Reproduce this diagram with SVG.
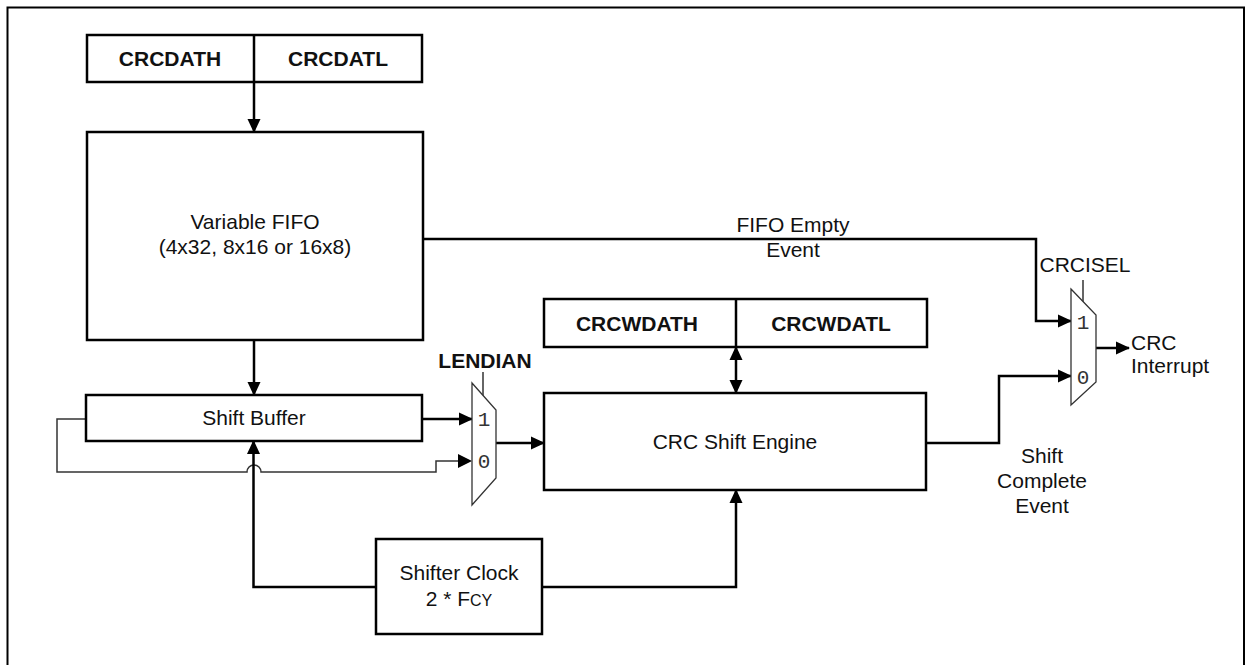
<svg xmlns="http://www.w3.org/2000/svg" width="1251" height="665" viewBox="0 0 1251 665">
<defs>
<marker id="ah" markerWidth="14" markerHeight="14" viewBox="0 0 14 14" refX="13" refY="7" orient="auto" markerUnits="userSpaceOnUse"><path d="M0,0.5 L14,7 L0,13.5 Z" fill="#000"/></marker>
<marker id="ahs" markerWidth="14" markerHeight="14" viewBox="0 0 14 14" refX="13" refY="7" orient="auto-start-reverse" markerUnits="userSpaceOnUse"><path d="M0,0.5 L14,7 L0,13.5 Z" fill="#000"/></marker>
</defs>
<style>
.box{fill:#fff;stroke:#000;stroke-width:2.5}
.t{font-family:"Liberation Sans",Arial,sans-serif;font-size:21px;fill:#111;text-anchor:middle}
.b{font-weight:bold}
.w{fill:none;stroke:#000;stroke-width:2.5}
.thin{fill:none;stroke:#333;stroke-width:1.5}
.mux{fill:#fff;stroke:#333;stroke-width:1.3}
.m{font-family:"Liberation Mono","DejaVu Sans Mono",monospace;font-size:21px;fill:#333;text-anchor:middle}
</style>
<rect width="1251" height="665" fill="#fff"/>
<path d="M7.5,665 V7.5 H1244 V665" fill="none" stroke="#000" stroke-width="2"/>

<g id="connectors">
<line class="w" x1="254" y1="82" x2="254" y2="132" marker-end="url(#ah)"/>
<line class="w" x1="254" y1="340" x2="254" y2="395" marker-end="url(#ah)"/>
<path class="w" d="M423,239 H1036 V321 H1071" marker-end="url(#ah)"/>
<line class="w" x1="422" y1="419" x2="472" y2="419" marker-end="url(#ah)"/>
<path class="thin" d="M86,419 H57 V472 H247 A7,7 0 0 1 261,472 H436 V461 H460"/>
<path d="M458,454 L472,461 L458,468 Z" fill="#000"/>
<line class="w" x1="496" y1="443" x2="544" y2="443" marker-end="url(#ah)"/>
<line class="w" x1="736" y1="347" x2="736" y2="393" marker-start="url(#ahs)" marker-end="url(#ah)"/>
<path class="w" d="M376,587 H253.5 V441" marker-end="url(#ah)"/>
<path class="w" d="M542,587 H736 V490" marker-end="url(#ah)"/>
<path class="w" d="M926,443 H999 V376 H1071" marker-end="url(#ah)"/>
<line class="w" x1="1096" y1="348" x2="1129" y2="348" marker-end="url(#ah)"/>
<line class="thin" x1="483" y1="372" x2="483" y2="396"/>
<line class="thin" x1="1083" y1="280" x2="1083" y2="302"/>
</g>

<g id="crcdat">
<rect class="box" x="87" y="35" width="335" height="47"/>
<line class="w" x1="254" y1="35" x2="254" y2="82"/>
<text class="t b" x="170" y="66">CRCDATH</text>
<text class="t b" x="338" y="66">CRCDATL</text>
</g>

<g id="fifo">
<rect class="box" x="87" y="132" width="336" height="208"/>
<text class="t" x="255" y="229">Variable FIFO</text>
<text class="t" x="255" y="254">(4x32, 8x16 or 16x8)</text>
</g>

<g id="fifo-label">
<text class="t" x="793" y="232">FIFO Empty</text>
<text class="t" x="793" y="257">Event</text>
</g>

<g id="shiftbuffer">
<rect class="box" x="86" y="395" width="336" height="46"/>
<text class="t" x="254" y="425">Shift Buffer</text>
</g>

<g id="mux1">
<polygon class="mux" points="472,383 496,410 496,478 472,505"/>
<text class="m" x="484" y="426">1</text>
<text class="m" x="484" y="468">0</text>
<text class="t b" x="485" y="368">LENDIAN</text>
</g>

<g id="crcwdat">
<rect class="box" x="544" y="299" width="383" height="48"/>
<line class="w" x1="736" y1="299" x2="736" y2="347"/>
<text class="t b" x="637" y="331">CRCWDATH</text>
<text class="t b" x="831" y="331">CRCWDATL</text>
</g>

<g id="engine">
<rect class="box" x="544" y="393" width="382" height="97"/>
<text class="t" x="735" y="449">CRC Shift Engine</text>
</g>

<g id="clock">
<rect class="box" x="376" y="539" width="166" height="95"/>
<text class="t" x="459" y="580">Shifter Clock</text>
<text class="t" x="459" y="606">2 * F<tspan font-size="16">CY</tspan></text>
</g>

<g id="mux2">
<polygon class="mux" points="1071,289 1096,315 1096,382 1071,405"/>
<text class="m" x="1083" y="329">1</text>
<text class="m" x="1083" y="384">0</text>
<text class="t" x="1085" y="272">CRCISEL</text>
</g>

<g id="labels">
<text class="t" x="1131" y="350" style="text-anchor:start">CRC</text>
<text class="t" x="1131" y="373" style="text-anchor:start">Interrupt</text>
<text class="t" x="1042" y="463">Shift</text>
<text class="t" x="1042" y="488">Complete</text>
<text class="t" x="1042" y="513">Event</text>
</g>
</svg>
